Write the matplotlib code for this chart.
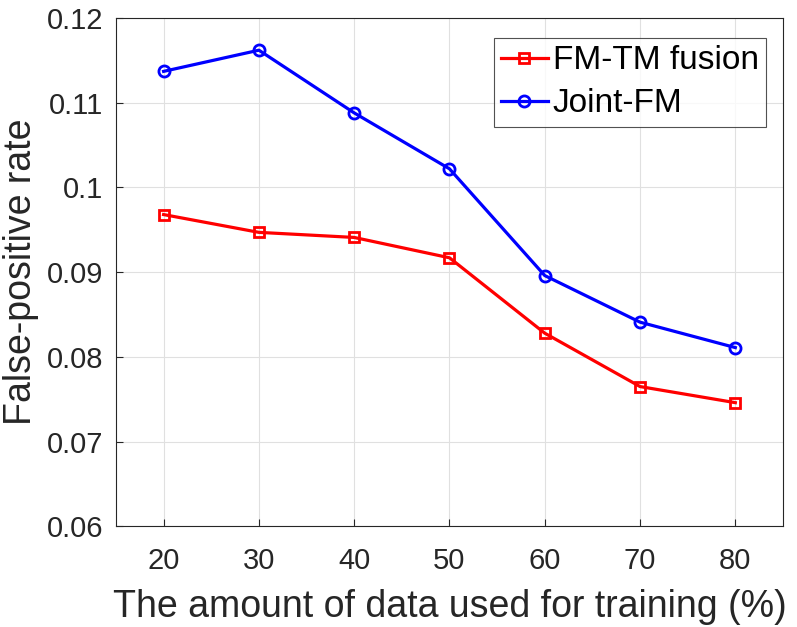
import matplotlib
matplotlib.use("Agg")
import matplotlib.pyplot as plt

x = [20, 30, 40, 50, 60, 70, 80]
fm_tm = [0.0968, 0.0947, 0.0941, 0.0917, 0.0828, 0.0765, 0.0746]
joint_fm = [0.1137, 0.1162, 0.1088, 0.1022, 0.0896, 0.0841, 0.0811]
yticks = [0.06, 0.07, 0.08, 0.09, 0.1, 0.11, 0.12]
ytick_labels = ["0.06", "0.07", "0.08", "0.09", "0.1", "0.11", "0.12"]

plt.rcParams['font.family'] = ['Liberation Sans', 'DejaVu Sans']

fig = plt.figure(figsize=(7.97, 6.27), dpi=100)
ax = fig.add_axes([0.1455, 0.1605, 0.8369, 0.8108])

ax.plot(x, fm_tm, color='#ff0000', lw=2.3, marker='s', ms=6.5, mfc='none',
        mew=2.0, label='FM-TM fusion', zorder=3)
ax.plot(x, joint_fm, color='#0000ff', lw=2.3, marker='o', ms=8, mfc='none',
        mew=2.0, label='Joint-FM', zorder=3)

ax.set_xlim(15, 85)
ax.set_ylim(0.06, 0.12)
ax.set_xticks(x)
ax.set_yticks(yticks)
ax.set_yticklabels(ytick_labels)
ax.tick_params(direction='in', labelsize=21, colors='#262626', length=5, width=0.8)
ax.tick_params(axis='x', pad=15)
ax.tick_params(axis='y', pad=9)
ax.grid(True, color='#e0e0e0', lw=0.8)
ax.set_axisbelow(True)
for s in ax.spines.values():
    s.set_color('#262626')
    s.set_linewidth(0.8)

ax.set_xlabel('The amount of data used for training (%)', fontsize=27, color='#262626', labelpad=10)
ax.set_ylabel('False-positive rate', fontsize=27, color='#262626', labelpad=6)

leg = ax.legend(loc='upper right', bbox_to_anchor=(0.9745, 0.9607), fontsize=24,
                frameon=True, fancybox=False, edgecolor='#262626',
                handlelength=1.4, handletextpad=0.15, borderpad=0.22,
                labelspacing=0.36, borderaxespad=0.0)
leg.get_frame().set_linewidth(0.8)

fig.savefig('out.png', dpi=100)
